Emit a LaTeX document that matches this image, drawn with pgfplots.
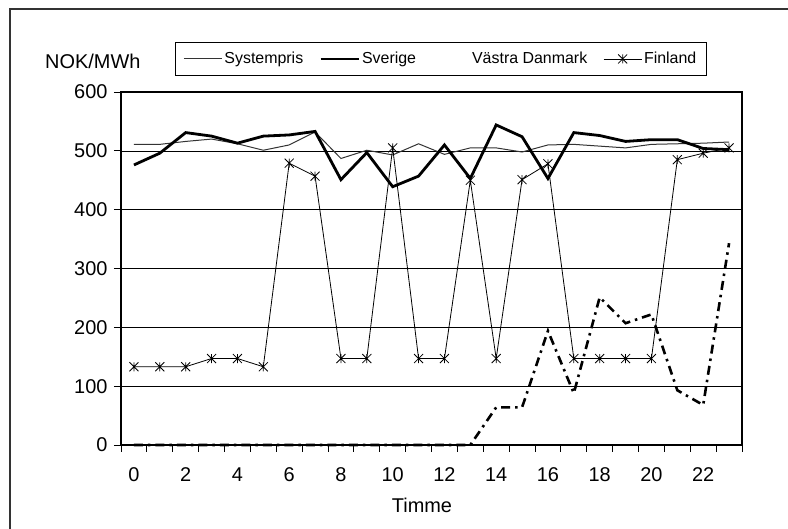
\documentclass[border=0pt]{standalone}
\usepackage{pgfplots}
\pgfplotsset{compat=1.18}
\usepackage{fontspec}
\setmainfont{Liberation Sans}
\pgfdeclareplotmark{xast}{%
  \pgfpathmoveto{\pgfqpoint{0pt}{\pgfplotmarksize}}%
  \pgfpathlineto{\pgfqpoint{0pt}{-\pgfplotmarksize}}%
  \pgfpathmoveto{\pgfqpoint{-\pgfplotmarksize}{\pgfplotmarksize}}%
  \pgfpathlineto{\pgfqpoint{\pgfplotmarksize}{-\pgfplotmarksize}}%
  \pgfpathmoveto{\pgfqpoint{-\pgfplotmarksize}{-\pgfplotmarksize}}%
  \pgfpathlineto{\pgfqpoint{\pgfplotmarksize}{\pgfplotmarksize}}%
  \pgfusepathqstroke}
\pgfplotstableread{
h sys sve vdk fin
0 511 476 0 133
1 511 496 0 133
2 516 531 0 133
3 520 525 0 147
4 512 513 0 147
5 501 525 0 133
6 510 527 0 479
7 532 533 0 457
8 487 451 0 147
9 501 497 0 147
10 493 439 0 505
11 512 457 0 147
12 494 510 0 147
13 505 453 0 450
14 505 544 64 147
15 498 524 64 451
16 510 453 194 478
17 511 531 88 147
18 508 526 251 147
19 505 516 207 147
20 511 519 222 147
21 512 519 93 485
22 513 504 68 496
23 515 502 343 505
}\data
\begin{document}
\begin{tikzpicture}
\useasboundingbox (0,0) rectangle (788bp,529bp);
\draw[black!80, line width=1.5bp] (10bp,-20bp) -- (10bp,520bp) -- (810bp,520bp);
\node[anchor=west, font=\fontsize{20}{24}\selectfont, inner sep=0pt] at (45bp,468bp) {NOK/MWh};
\node[font=\fontsize{20}{24}\selectfont, inner sep=0pt] at (422bp,24bp) {Timme};
\begin{axis}[
  at={(121bp,84bp)}, anchor=south west,
  scale only axis, width=621bp, height=353bp,
  xmin=-0.5, xmax=23.5, ymin=0, ymax=600,
  ytick={0,100,...,600},
  ymajorgrids, grid style={black, line width=0.6bp},
  xtick={-0.5,0.5,...,23.5}, xticklabels={},
  extra x ticks={0,2,...,22},
  extra x tick labels={0,2,4,6,8,10,12,14,16,18,20,22},
  extra x tick style={major tick length=0pt, xticklabel style={yshift=-19bp}},
  tick align=outside, tick pos=left,
  major tick length=7bp,
  tick style={black, line width=0.8bp},
  axis line style={black, line width=1.2bp},
  tick label style={font=\fontsize{20}{24}\selectfont},
  yticklabel style={xshift=-3bp},
  /pgf/number format/assume math mode=true,
  clip=false,
  legend columns=4,
  legend cell align=left,
  legend image code/.code={\draw[mark repeat=2,mark phase=2,#1] plot coordinates {(0bp,0bp) (19bp,0bp) (38bp,0bp)};},
  legend style={at={(0.087,1.1416)}, anchor=north west,
    draw=black, line width=0.8bp, inner xsep=8bp, inner ysep=8bp,
    font=\fontsize{16}{19}\selectfont,
    nodes={inner sep=2bp},
    /tikz/every even column/.append style={column sep=14bp}},
]
\addplot[black!80, line width=1bp] table[x=h, y=sys] {\data};
\addlegendentry{Systempris}
\addplot[black, line width=2.8bp] table[x=h, y=sve] {\data};
\addlegendentry{Sverige}
\addplot[black, line width=2.6bp, dash pattern=on 9bp off 5bp on 2.5bp off 5bp,
  legend image code/.code={\draw[draw=none] (0bp,0bp) -- (38bp,0bp);}] table[x=h, y=vdk] {\data};
\addlegendentry{Västra Danmark}
\addplot[black, line width=0.8bp, mark=xast, mark size=4.5bp, mark options={solid, line width=0.8bp}] table[x=h, y=fin] {\data};
\addlegendentry{Finland}
\end{axis}
\end{tikzpicture}
\end{document}
